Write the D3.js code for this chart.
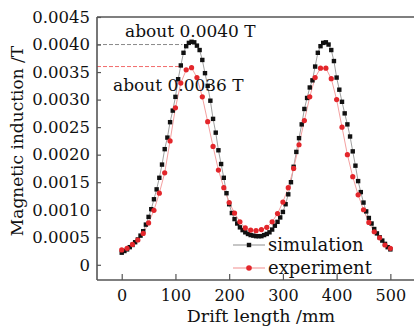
<!DOCTYPE html>
<html>
<head>
<meta charset="utf-8">
<script src="https://cdn.jsdelivr.net/npm/d3@7/dist/d3.min.js"></script>
<style>
  html, body { margin: 0; padding: 0; background: #fff; }
  svg { display: block; font-family: 'DejaVu Serif', serif; }
</style>
</head>
<body>
<div id="chart"></div>
<script>
// drift length (mm) and magnetic induction (T)
const simX = [0,5,10,15,20,25,30,35,40,45,50,55,60,65,70,75,80,85,90,95,
  100,105,110,115,120,125,130,135,140,145,150,155,160,165,170,175,180,185,190,195,
  200,205,210,215,220,225,230,235,240,245,250,255,260,265,270,275,280,285,290,295,
  300,305,310,315,320,325,330,335,340,345,350,355,360,365,370,375,380,385,390,395,
  400,405,410,415,420,425,430,435,440,445,450,455,460,465,470,475,480,485,490,495,500];
const simB = [0.00022,0.00025,0.00028,0.00032,0.00036,0.00041,0.00046,0.00053,0.00061,0.00073,
  0.00087,0.00101,0.00119,0.00137,0.00158,0.00182,0.00210,0.00231,0.00259,0.00280,
  0.00305,0.00337,0.00362,0.00385,0.00397,0.00403,0.00405,0.00404,0.00398,0.00390,
  0.00372,0.00348,0.00325,0.00298,0.00265,0.00240,0.00208,0.00183,0.00158,0.00130,
  0.00110,0.00094,0.00083,0.00075,0.00068,0.00063,0.00059,0.00056,0.00054,0.00053,
  0.00052,0.00052,0.00052,0.00054,0.00056,0.00059,0.00064,0.00071,0.00078,0.00086,
  0.00096,0.00110,0.00128,0.00150,0.00178,0.00205,0.00230,0.00255,0.00283,0.00303,
  0.00322,0.00335,0.00360,0.00385,0.00397,0.00403,0.00404,0.00400,0.00390,0.00370,
  0.00340,0.00318,0.00296,0.00275,0.00255,0.00233,0.00206,0.00180,0.00152,0.00132,
  0.00113,0.00097,0.00085,0.00075,0.00065,0.00057,0.00050,0.00044,0.00038,0.00032,0.00028];

const expX = [0,10,20,30,40,50,60,70,80,90,100,110,120,130,140,150,160,170,180,190,
  200,210,220,230,240,250,260,270,280,290,300,310,320,330,340,350,360,370,380,390,
  400,410,420,430,440,450,460,470,480,490,500];
const expB = [0.00027,0.00030,0.00037,0.00045,0.00057,0.00076,0.00099,0.00130,0.00167,0.00225,
  0.00285,0.00330,0.00354,0.00358,0.00340,0.00305,0.00260,0.00215,0.00172,0.00140,
  0.00113,0.00094,0.00078,0.00067,0.00063,0.00062,0.00064,0.00068,0.00078,0.00093,
  0.00114,0.00140,0.00175,0.00218,0.00262,0.00305,0.00340,0.00357,0.00357,0.00338,
  0.00300,0.00250,0.00200,0.00160,0.00127,0.00100,0.00077,0.00060,0.00049,0.00036,0.00030];

const xTicks = [0, 100, 200, 300, 400, 500];
const yTicks = [0, 0.0005, 0.0010, 0.0015, 0.0020, 0.0025, 0.0030, 0.0035, 0.0040, 0.0045];

// peak markers: level, where the dashed guide stops, label
const refLevels = [0.0040, 0.0036];
const refEndX = [113, 108];
const refLabels = ['about 0.0040 T', 'about 0.0036 T'];

const W = 414, H = 329;
const margin = {top: 17, right: 0, bottom: 49, left: 97};

const svg = d3.select('#chart').append('svg')
  .attr('width', W).attr('height', H);

const x = d3.scaleLinear().domain([-46, 544]).range([margin.left, W - margin.right]);
const y = d3.scaleLinear().domain([-0.000276, 0.0045]).range([H - margin.bottom, margin.top]);

const sim = simX.map((d, i) => ({x: d, b: simB[i]}));
const exp = expX.map((d, i) => ({x: d, b: expB[i]}));

// dashed guides to the peaks
const refColors = ['#8a8a8a', '#f26b6b'];
refLevels.forEach((lv, i) => {
  svg.append('line')
    .attr('x1', margin.left).attr('x2', x(refEndX[i]))
    .attr('y1', y(lv)).attr('y2', y(lv))
    .attr('stroke', refColors[i]).attr('stroke-width', 1)
    .attr('stroke-dasharray', '4,2');
});

const line = d3.line().x(d => x(d.x)).y(d => y(d.b));

svg.append('path').datum(sim)
  .attr('d', line).attr('fill', 'none')
  .attr('stroke', '#a0a0a0').attr('stroke-width', 1);

svg.append('path').datum(exp)
  .attr('d', line).attr('fill', 'none')
  .attr('stroke', '#f4a0a0').attr('stroke-width', 1);

const sq = 4.4;
svg.selectAll('.sim').data(sim).enter().append('rect')
  .attr('class', 'sim')
  .attr('x', d => x(d.x) - sq / 2).attr('y', d => y(d.b) - sq / 2)
  .attr('width', sq).attr('height', sq)
  .attr('fill', '#111');

svg.selectAll('.exp').data(exp).enter().append('circle')
  .attr('class', 'exp')
  .attr('cx', d => x(d.x)).attr('cy', d => y(d.b))
  .attr('r', 2.6)
  .attr('fill', '#e3262b');

// frame (right side is cut off in the original)
const frame = svg.append('g').attr('stroke', '#555').attr('stroke-width', 1.6);
frame.append('line').attr('x1', margin.left).attr('x2', margin.left).attr('y1', margin.top).attr('y2', H - margin.bottom);
frame.append('line').attr('x1', margin.left).attr('x2', W).attr('y1', margin.top).attr('y2', margin.top);
frame.append('line').attr('x1', margin.left).attr('x2', W).attr('y1', H - margin.bottom).attr('y2', H - margin.bottom);

// axes with inward ticks
const yAxis = svg.append('g')
  .attr('transform', `translate(${margin.left},0)`)
  .call(d3.axisLeft(y).tickValues(yTicks).tickSize(-4).tickPadding(7)
    .tickFormat(d => d === 0 ? '0' : d3.format('.4f')(d)));
yAxis.select('.domain').remove();
yAxis.selectAll('.tick line').attr('stroke', '#555').attr('stroke-width', 1.2);
yAxis.selectAll('.tick text').attr('font-size', 16.5).attr('font-family', 'DejaVu Serif').attr('fill', '#111');

const xAxis = svg.append('g')
  .attr('transform', `translate(0,${H - margin.bottom})`)
  .call(d3.axisBottom(x).tickValues(xTicks).tickSize(-6).tickPadding(10));
xAxis.select('.domain').remove();
xAxis.selectAll('.tick line').attr('stroke', '#555').attr('stroke-width', 1.2);
xAxis.selectAll('.tick text').attr('font-size', 16).attr('font-family', 'DejaVu Serif').attr('fill', '#111');

// axis titles
svg.append('text')
  .attr('x', 261).attr('y', 322)
  .attr('text-anchor', 'middle')
  .attr('font-size', 17.5).attr('fill', '#111')
  .text('Drift length /mm');

svg.append('text')
  .attr('transform', 'translate(23,141) rotate(-90)')
  .attr('text-anchor', 'middle')
  .attr('font-size', 17).attr('fill', '#111')
  .text('Magnetic induction /T');

// peak labels
svg.append('text').attr('x', 125).attr('y', 37)
  .attr('font-size', 17).attr('fill', '#111').text(refLabels[0]);
svg.append('text').attr('x', 113).attr('y', 90.5)
  .attr('font-size', 17).attr('fill', '#111').text(refLabels[1]);

// legend
const legend = svg.append('g').attr('transform', 'translate(233,245)');
const legendItems = [
  {name: 'simulation', line: '#a0a0a0', mark: 'square'},
  {name: 'experiment', line: '#f4a0a0', mark: 'circle'}
];
legendItems.forEach((it, i) => {
  const g = legend.append('g').attr('transform', `translate(0,${i * 23})`);
  g.append('line').attr('x1', 0).attr('x2', 32).attr('y1', 0).attr('y2', 0)
    .attr('stroke', it.line).attr('stroke-width', 1.2);
  if (it.mark === 'square') {
    g.append('rect').attr('x', 16 - sq / 2).attr('y', -sq / 2).attr('width', sq).attr('height', sq).attr('fill', '#111');
  } else {
    g.append('circle').attr('cx', 16).attr('cy', 0).attr('r', 2.8).attr('fill', '#e3262b');
  }
  g.append('text').attr('x', 35).attr('y', 6)
    .attr('font-size', 18).attr('fill', '#111').text(it.name);
});
</script>
</body>
</html>
